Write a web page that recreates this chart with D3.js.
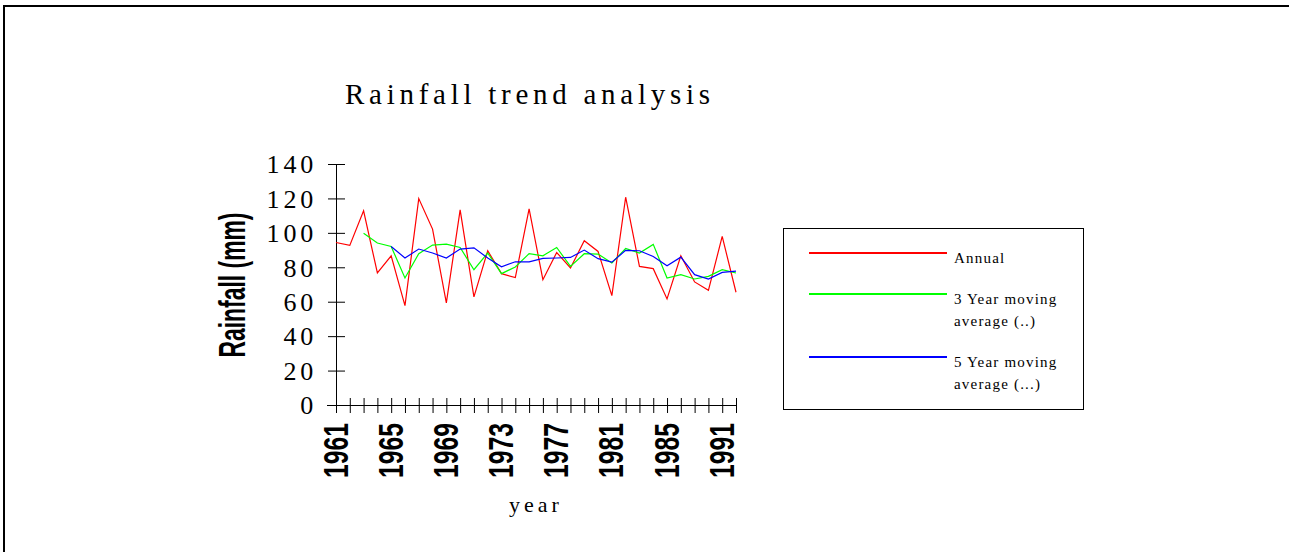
<!DOCTYPE html>
<html>
<head>
<meta charset="utf-8">
<script src="https://cdn.jsdelivr.net/npm/d3@7"></script>
<style>
  body { margin: 0; background: #fff; }
  svg { display: block; }
</style>
</head>
<body>
<div class="chart"></div>
<script>
// chart values
var years = [1961, 1962, 1963, 1964, 1965, 1966, 1967, 1968, 1969, 1970,
             1971, 1972, 1973, 1974, 1975, 1976, 1977, 1978, 1979, 1980,
             1981, 1982, 1983, 1984, 1985, 1986, 1988, 1990, 1991, 1992];
var annual = [94.4, 92.7, 112.8, 76.7, 86.7, 57.7, 119.9, 102.2, 59.3, 113.3,
              62.8, 89.6, 76.3, 74.0, 113.9, 72.8, 88.6, 79.6, 95.4, 89.2,
              63.5, 120.7, 80.5, 79.2, 61.6, 86.7, 71.5, 66.6, 97.9, 65.5];
var avg3 = [null, null, 99.8, 94.1, 92.1, 73.8, 87.9, 92.9, 93.5, 91.5,
            78.6, 88.3, 76.3, 80.2, 87.9, 86.7, 91.5, 80.5, 87.9, 87.7,
            82.5, 90.9, 88.3, 93.3, 73.8, 75.7, 73.2, 74.7, 78.6, 76.7];
var avg5 = [null, null, null, null, 92.1, 85.4, 90.6, 88.3, 85.4, 90.6,
            91.3, 85.4, 80.3, 83.2, 83.2, 85.2, 85.4, 85.7, 90.0, 85.0,
            83.0, 89.8, 89.6, 86.3, 80.9, 85.9, 75.7, 73.2, 77.0, 77.8];
var yTicks = [0, 20, 40, 60, 80, 100, 120, 140];
var seriesNames = [["Annual"], ["3 Year moving", "average (..)"], ["5 Year moving", "average (...)"]];

var serif = "'Liberation Serif', 'Times New Roman', serif";
var sans = "'Liberation Sans', Arial, sans-serif";

var svg = d3.select(".chart").append("svg")
            .attr("width", 1289)
            .attr("height", 552);

// outer frame (only top and left show in the picture)
svg.append("path")
   .attr("d", "M4,552V6H1289")
   .attr("fill", "none")
   .attr("stroke", "#000")
   .attr("stroke-width", 2);

var x = d3.scalePoint().domain(years).range([336, 736]);
var y = d3.scaleLinear().domain([0, 140]).range([405, 164]);

// title
svg.append("text")
   .attr("x", 345).attr("y", 104)
   .attr("textLength", 365).attr("lengthAdjust", "spacing")
   .style("font-family", serif).style("font-size", "29px")
   .attr("fill", "#000")
   .text("Rainfall trend analysis");

// y axis
var yAxis = svg.append("g")
               .attr("transform", "translate(336,0)")
               .call(d3.axisLeft(y).tickValues(yTicks).tickSize(8).tickSizeOuter(0));
yAxis.select(".domain").attr("stroke", "#000");
yAxis.selectAll(".tick line").attr("x1", 9).attr("stroke", "#000");
yAxis.selectAll(".tick text")
     .attr("x", -19).attr("dy", "0.34em")
     .style("font-family", serif).style("font-size", "26px")
     .style("letter-spacing", "3.8px")
     .attr("fill", "#000");

// x axis
var xAxis = svg.append("g")
               .attr("transform", "translate(0,405)")
               .call(d3.axisBottom(x).tickSize(8).tickSizeOuter(0).tickFormat(""));
xAxis.select(".domain").attr("stroke", "#000").attr("d", "M327,0.5H736");
xAxis.selectAll(".tick line").attr("y1", -7).attr("stroke", "#000");

svg.append("g").selectAll("text")
   .data(years.filter(function(d, i) { return i % 4 === 0; }))
   .enter().append("text")
   .attr("transform", function(d) { return "translate(" + x(d) + ",423) rotate(-90)"; })
   .attr("y", 11.5)
   .attr("text-anchor", "end")
   .attr("textLength", 55).attr("lengthAdjust", "spacingAndGlyphs")
   .style("font-family", sans).style("font-size", "35px")
   .style("font-weight", "bold")
   .attr("fill", "#000")
   .text(function(d) { return d; });

// axis titles
svg.append("text")
   .attr("transform", "translate(245,285) rotate(-90)")
   .attr("text-anchor", "middle")
   .attr("textLength", 145).attr("lengthAdjust", "spacingAndGlyphs")
   .style("font-family", sans).style("font-size", "36px")
   .style("font-weight", "bold")
   .attr("fill", "#000")
   .text("Rainfall (mm)");

svg.append("text")
   .attr("x", 536).attr("y", 512)
   .attr("text-anchor", "middle")
   .style("font-family", serif).style("font-size", "22px")
   .style("letter-spacing", "4px")
   .attr("fill", "#000")
   .text("year");

// series lines
var series = [
  { values: annual, color: "#ff0000" },
  { values: avg3, color: "#00ff00" },
  { values: avg5, color: "#0000ff" }
];

var line = d3.line()
             .defined(function(d) { return d != null; })
             .x(function(d, i) { return x(years[i]); })
             .y(function(d) { return y(d); });

svg.append("g").selectAll("path")
   .data(series).enter().append("path")
   .attr("d", function(d) { return line(d.values); })
   .attr("fill", "none")
   .attr("stroke", function(d) { return d.color; })
   .attr("stroke-width", 1.2);

// legend
svg.append("rect")
   .attr("x", 783.5).attr("y", 228.5)
   .attr("width", 300).attr("height", 181)
   .attr("fill", "none").attr("stroke", "#000");

var legendY = [];
var ly = 253;
seriesNames.forEach(function(n) { legendY.push(ly); ly += 19 + 22 * n.length; });

var entry = svg.append("g").selectAll("g")
               .data(series).enter().append("g")
               .attr("transform", function(d, i) { return "translate(0," + legendY[i] + ")"; });
entry.append("line")
     .attr("x1", 809).attr("x2", 947)
     .attr("stroke", function(d) { return d.color; })
     .attr("stroke-width", 2);
entry.each(function(d, i) {
  d3.select(this).selectAll("text")
    .data(seriesNames[i]).enter().append("text")
    .attr("x", 954)
    .attr("y", function(t, k) { return 10 + k * 22; })
    .style("font-family", serif).style("font-size", "15px")
    .style("letter-spacing", "1.2px")
    .attr("fill", "#000")
    .text(function(t) { return t; });
});
</script>
</body>
</html>
